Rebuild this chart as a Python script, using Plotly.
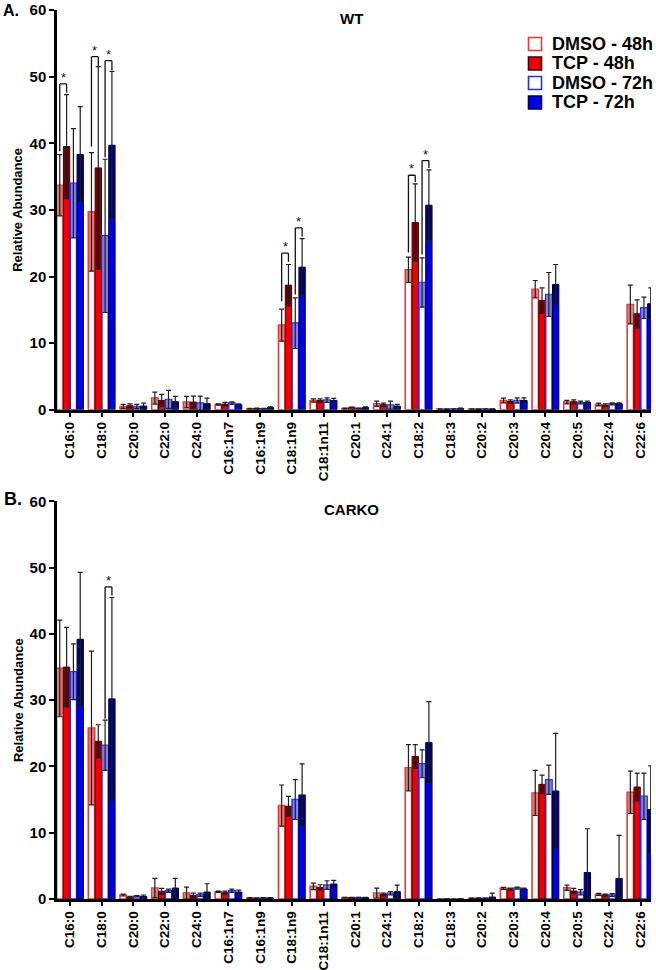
import plotly.graph_objects as go

# ---------------- data ----------------
categories = ["C16:0", "C18:0", "C20:0", "C22:0", "C24:0", "C16:1n7", "C16:1n9",
              "C18:1n9", "C18:1n11", "C20:1", "C24:1", "C18:2", "C18:3", "C20:2",
              "C20:3", "C20:4", "C20:5", "C22:4", "C22:6"]
series_names = ["DMSO - 48h", "TCP - 48h", "DMSO - 72h", "TCP - 72h"]

# WT panel
wt_dmso48 = [33.7, 29.7, 0.5, 1.75, 1.15, 0.8, 0.15, 12.7, 1.4, 0.2, 0.9, 21.0, 0.1, 0.1, 1.4, 18.1, 1.15, 0.8, 15.8]
wt_dmso48_sd = [4.6, 8.9, 0.3, 0.9, 0.85, 0.1, 0.05, 2.4, 0.25, 0.05, 0.4, 1.9, 0.05, 0.05, 0.35, 1.3, 0.25, 0.2, 2.9]
wt_tcp48 = [39.5, 36.3, 0.6, 1.4, 1.15, 0.85, 0.2, 18.7, 1.4, 0.35, 0.75, 28.1, 0.1, 0.1, 1.25, 16.4, 1.2, 0.7, 14.4]
wt_tcp48_sd = [7.8, 15.2, 0.3, 0.9, 0.9, 0.25, 0.05, 3.1, 0.25, 0.05, 0.25, 5.8, 0.05, 0.05, 0.25, 1.9, 0.3, 0.2, 2.1]
wt_dmso72 = [34.0, 26.1, 0.5, 1.55, 1.0, 1.0, 0.15, 13.0, 1.45, 0.2, 0.7, 19.1, 0.1, 0.1, 1.4, 17.3, 1.1, 0.9, 15.3]
wt_dmso72_sd = [8.2, 11.5, 0.3, 1.35, 1.05, 0.2, 0.05, 3.8, 0.35, 0.05, 0.6, 3.7, 0.05, 0.05, 0.4, 3.3, 0.2, 0.15, 1.6]
wt_tcp72 = [38.3, 39.7, 0.55, 1.2, 0.9, 0.75, 0.35, 21.4, 1.4, 0.35, 0.55, 30.7, 0.2, 0.1, 1.4, 18.8, 1.1, 0.9, 15.9]
wt_tcp72_sd = [7.2, 11.1, 0.45, 0.8, 0.85, 0.15, 0.1, 4.3, 0.3, 0.1, 0.25, 5.3, 0.05, 0.05, 0.4, 3.0, 0.2, 0.15, 2.4]

# CARKO panel
ko_dmso48 = [34.8, 25.8, 0.6, 1.65, 0.9, 1.1, 0.15, 14.1, 1.9, 0.2, 0.9, 19.8, 0.0, 0.1, 1.6, 16.0, 1.7, 0.7, 16.1]
ko_dmso48_sd = [7.3, 11.6, 0.15, 1.45, 0.9, 0.1, 0.05, 3.1, 0.5, 0.05, 0.75, 3.5, 0.0, 0.05, 0.15, 3.4, 0.4, 0.15, 3.2]
ko_tcp48 = [35.0, 23.8, 0.3, 1.15, 0.55, 0.95, 0.1, 14.0, 1.75, 0.2, 0.7, 21.5, 0.0, 0.1, 1.5, 17.3, 1.2, 0.6, 16.9]
ko_tcp48_sd = [6.0, 2.5, 0.1, 0.45, 0.35, 0.25, 0.05, 1.5, 0.4, 0.05, 0.2, 1.8, 0.0, 0.05, 0.15, 1.4, 0.4, 0.15, 2.1]
ko_dmso72 = [34.3, 23.2, 0.4, 1.25, 0.65, 1.25, 0.15, 15.0, 2.1, 0.2, 0.85, 20.4, 0.0, 0.1, 1.65, 18.0, 1.0, 0.6, 15.5]
ko_dmso72_sd = [4.2, 3.8, 0.1, 0.25, 0.25, 0.25, 0.05, 3.0, 0.65, 0.05, 0.25, 2.1, 0.0, 0.05, 0.15, 2.2, 0.4, 0.2, 3.5]
ko_tcp72 = [39.2, 30.2, 0.4, 1.65, 1.05, 1.05, 0.15, 15.7, 2.25, 0.2, 1.1, 23.6, 0.0, 0.3, 1.5, 16.3, 4.0, 3.1, 13.5]
ko_tcp72_sd = [10.1, 15.3, 0.2, 1.45, 1.25, 0.3, 0.05, 4.7, 0.55, 0.05, 1.0, 6.2, 0.0, 0.6, 0.15, 8.7, 6.6, 6.5, 6.6]

# significance brackets: (category, bar_a, bar_b, top, left_leg_bottom, right_leg_bottom)
wt_brackets = [
    ("C16:0", 0, 1, 48.9, 38.8, 47.6),
    ("C18:0", 0, 1, 53.0, 39.5, 51.6),
    ("C18:0", 2, 3, 52.4, 37.9, 51.0),
    ("C18:1n9", 0, 1, 23.5, 16.3, 22.2),
    ("C18:1n9", 2, 3, 27.3, 17.3, 26.0),
    ("C18:2", 0, 1, 35.2, 23.6, 34.2),
    ("C18:2", 2, 3, 37.4, 23.3, 36.3),
]
ko_brackets = [
    ("C18:0", 2, 3, 47.1, 27.2, 45.8),
]

# ---------------- layout helpers ----------------
W, H = 656, 970
ML, MR, MT, MB = 57, 5, 10, 70.5
PW = W - ML - MR
PH = H - MT - MB


def px2x(px):
    return (px - ML) / PW


def px2y(py):
    return (H - MB - py) / PH


FONT = "Liberation Sans, Arial, Helvetica, sans-serif"

styles = [
    dict(fill="#ffffff", line="#e23a3a", lw=1.6, band="rgba(210,110,110,0.9)"),
    dict(fill="#f00000", line="#3c0000", lw=1.0, band="#700000"),
    dict(fill="#ffffff", line="#2b2bf0", lw=1.6, band="rgba(115,115,215,0.9)"),
    dict(fill="#0000e6", line="#000040", lw=1.0, band="#00005e"),
]
BW = 0.2
STEP = 0.215
OFF0 = -0.4225

fig = go.Figure()

panels = [
    ("x", "y", [wt_dmso48, wt_tcp48, wt_dmso72, wt_tcp72],
     [wt_dmso48_sd, wt_tcp48_sd, wt_dmso72_sd, wt_tcp72_sd], wt_brackets),
    ("x2", "y2", [ko_dmso48, ko_tcp48, ko_dmso72, ko_tcp72],
     [ko_dmso48_sd, ko_tcp48_sd, ko_dmso72_sd, ko_tcp72_sd], ko_brackets),
]

shapes = []
annotations = []

for xa, ya, means, sds, brackets in panels:
    for i in range(4):
        m = means[i]
        s = sds[i]
        st = styles[i]
        off = OFF0 + i * STEP
        fig.add_trace(go.Bar(
            x=categories, y=m, xaxis=xa, yaxis=ya, width=BW, offset=off,
            name=series_names[i], showlegend=False, hoverinfo="skip",
            marker=dict(color=st["fill"], line=dict(color=st["line"], width=st["lw"])),
        ))
        base = [max(a - b, 0) for a, b in zip(m, s)]
        hgt = [a - b for a, b in zip(m, base)]
        fig.add_trace(go.Bar(
            x=categories, y=hgt, base=base, xaxis=xa, yaxis=ya,
            width=BW - 0.04, offset=off + 0.02,
            showlegend=False, hoverinfo="skip",
            marker=dict(color=st["band"], line=dict(width=0)),
            error_y=dict(type="data", symmetric=False, array=s, arrayminus=hgt,
                         color="#1e1e1e", thickness=1.2, width=2.5),
        ))
    for cat, a, b, top, lb, rb in brackets:
        ci = categories.index(cat)
        xl = ci + OFF0 + a * STEP + BW / 2
        xr = ci + OFF0 + b * STEP + BW / 2
        ln = dict(color="#111111", width=1.3)
        shapes.append(dict(type="line", xref=xa, yref=ya, x0=xl, x1=xl, y0=lb, y1=top, line=ln))
        shapes.append(dict(type="line", xref=xa, yref=ya, x0=xl, x1=xr, y0=top, y1=top, line=ln))
        shapes.append(dict(type="line", xref=xa, yref=ya, x0=xr, x1=xr, y0=top, y1=rb, line=ln))
        annotations.append(dict(xref=xa, yref=ya, x=(xl + xr) / 2, y=top, text="*",
                                showarrow=False, yanchor="bottom", xanchor="center",
                                yshift=-3, font=dict(family=FONT, size=13, color="#111")))

# panel labels and titles
annotations += [
    dict(xref="paper", yref="paper", x=px2x(11), y=px2y(11), text="<b>A.</b>",
         xanchor="center", yanchor="middle",
         showarrow=False, font=dict(family=FONT, size=16, color="black")),
    dict(xref="paper", yref="paper", x=px2x(13), y=px2y(499), text="<b>B.</b>",
         xanchor="center", yanchor="middle",
         showarrow=False, font=dict(family=FONT, size=18, color="black")),
    dict(xref="paper", yref="paper", x=px2x(351), y=px2y(19), text="<b>WT</b>",
         xanchor="center", yanchor="middle",
         showarrow=False, font=dict(family=FONT, size=15, color="black")),
    dict(xref="paper", yref="paper", x=px2x(351), y=px2y(510), text="<b>CARKO</b>",
         xanchor="center", yanchor="middle",
         showarrow=False, font=dict(family=FONT, size=15, color="black")),
]

# legend (manual, to match tight row spacing)
legend_rows = [44, 63.5, 83, 102.5]
for i, name in enumerate(series_names):
    st = styles[i]
    cy = legend_rows[i]
    shapes.append(dict(type="rect", xref="paper", yref="paper",
                       x0=px2x(528.5), x1=px2x(541.5), y0=px2y(cy + 6.5), y1=px2y(cy - 6.5),
                       fillcolor=st["fill"], line=dict(color=st["line"], width=1.6)))
    annotations.append(dict(xref="paper", yref="paper", x=px2x(550), y=px2y(cy),
                            xanchor="left", yanchor="middle", showarrow=False,
                            text="<b>%s</b>" % name,
                            font=dict(family=FONT, size=18, color="black")))

axis_common_x = dict(
    type="category", range=[-0.41, 18.33], showline=True, linecolor="black", linewidth=2.5,
    ticks="outside", ticklen=4, tickwidth=2, tickcolor="black", tickangle=-90,
    tickfont=dict(family=FONT, size=13.5, color="black", weight="bold"),
    showgrid=False, zeroline=False, fixedrange=True,
)
axis_common_y = dict(
    range=[0, 60], dtick=10, tick0=0, showline=True, linecolor="black", linewidth=2.5,
    ticks="outside", ticklen=5, tickwidth=2, tickcolor="black",
    tickfont=dict(family=FONT, size=15, color="black", weight="bold"),
    showgrid=False, zeroline=False, fixedrange=True,
    title=dict(text="Relative Abundance", standoff=4,
               font=dict(family=FONT, size=13, color="black", weight="bold")),
)

fig.update_layout(
    width=W, height=H,
    margin=dict(l=ML, r=MR, t=MT, b=MB, autoexpand=False),
    paper_bgcolor="white", plot_bgcolor="white",
    barmode="overlay", showlegend=False,
    xaxis=dict(domain=[0, 1], anchor="y", **axis_common_x),
    yaxis=dict(domain=[px2y(410), 1], anchor="x", **axis_common_y),
    xaxis2=dict(domain=[0, 1], anchor="y2", **axis_common_x),
    yaxis2=dict(domain=[0, px2y(501.7)], anchor="x2", **axis_common_y),
    shapes=shapes, annotations=annotations,
    font=dict(family=FONT, color="black"),
)

fig.write_html(
    "out.html",
    config={"displayModeBar": False},
    post_script="document.body.style.margin='0';document.body.style.overflow='hidden';",
)
